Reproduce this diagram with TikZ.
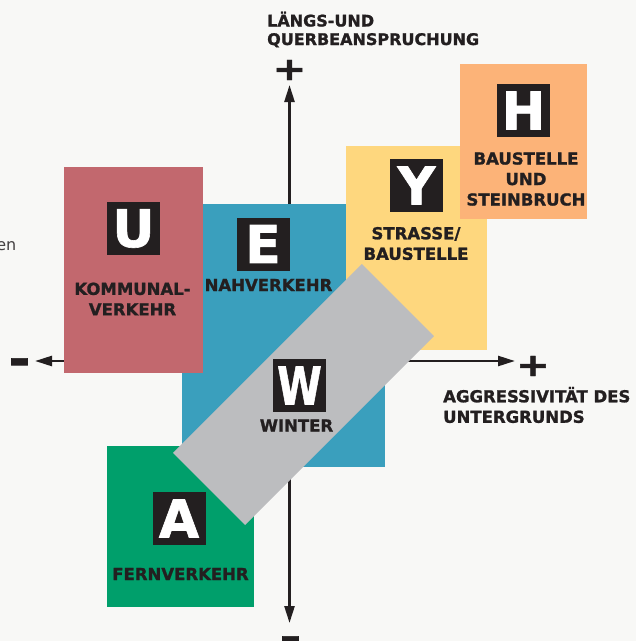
\documentclass[tikz,border=0pt]{standalone}
\usepackage{fontspec}
\setmainfont{DejaVu Sans}[BoldFeatures={FakeBold=1.2}]
\usetikzlibrary{arrows.meta}
\definecolor{bgcol}{HTML}{F8F8F6}
\definecolor{kommunal}{HTML}{C2686E}
\definecolor{nahverkehr}{HTML}{3A9FBD}
\definecolor{strasse}{HTML}{FED77E}
\definecolor{steinbruch}{HTML}{FCB378}
\definecolor{fernverkehr}{HTML}{009F6B}
\definecolor{winter}{HTML}{BCBDBF}
\definecolor{ink}{HTML}{231F20}
\begin{document}
\begin{tikzpicture}[x=1pt, y=-1pt,
		box/.style={rectangle, inner sep=0pt, anchor=north west},
		icon/.style={rectangle, fill=ink, text=white, minimum size=53pt, inner sep=0pt, font=\fontsize{52}{52}\selectfont\bfseries},
		lbl/.style={text=ink, align=center, inner sep=0pt, font=\fontsize{16.5}{20.5}\selectfont\bfseries},
		sign/.style={text=ink, inner sep=0pt, font=\fontsize{40}{40}\selectfont\bfseries},
		axis/.style={ink, line width=2.5pt, -{Triangle[length=17pt, width=10pt]}}]
	\fill[bgcol] (0,0) rectangle (636,641);
	\useasboundingbox (0,0) rectangle (636,641);
	% axes
	\coordinate (o) at (289.5,361);
	\coordinate (ytop) at (289.5,85);
	\coordinate (ybot) at (289.5,623);
	\coordinate (xleft) at (35,361);
	\coordinate (xright) at (515,361);
	\draw[axis] (o) -- (ytop);
	\draw[axis] (o) -- (ybot);
	\draw[axis] (o) -- (xleft);
	\draw[axis] (o) -- (xright);
	\node[sign] (plusy) at (289.5,70) {\scalebox{1}[0.8]{+}};
	\node[sign] (plusx) at (533,366) {\scalebox{1}[0.8]{+}};
	\node[sign] (minusx) at (19.5,367) {\scalebox{1.3}[1.2]{-}};
	\node[sign] (minusy) at (290.5,645) {\scalebox{1.3}[1.2]{-}};
	% boxes
	\node[box, fill=nahverkehr, minimum width=203pt, minimum height=263pt] (boxE) at (182,204) {};
	\node[box, fill=kommunal, minimum width=139pt, minimum height=206pt] (boxU) at (64,167) {};
	\node[box, fill=strasse, minimum width=141pt, minimum height=204pt] (boxY) at (346,146) {};
	\node[box, fill=steinbruch, minimum width=127pt, minimum height=155pt] (boxH) at (460,64) {};
	\node[box, fill=fernverkehr, minimum width=147pt, minimum height=161pt] (boxA) at (107,446) {};
	\node[fill=winter, minimum width=267pt, minimum height=102pt, inner sep=0pt, rotate=45] (boxW) at (303.5,394.5) {};
	% icons
	\node[icon] (iconU) at (133.5,228.5) {U};
	\node[icon] (iconE) at (263,244) {E};
	\node[icon] (iconY) at (416.5,185.5) {Y};
	\node[icon] (iconH) at (523.5,110.5) {H};
	\node[icon] (iconW) at (299.5,385.5) {\scalebox{0.78}[1]{W}};
	\node[icon] (iconA) at (179,518.5) {A};
	% labels
	\node[lbl] (lblU) at (132.5,299) {KOMMUNAL-\\VERKEHR};
	\node[lbl] (lblE) at (268.5,285) {NAHVERKEHR};
	\node[lbl] (lblY) at (416,243.5) {STRASSE/\\BAUSTELLE};
	\node[lbl] (lblH) at (526,179) {BAUSTELLE\\UND\\STEINBRUCH};
	\node[lbl] (lblW) at (296.5,425.5) {WINTER};
	\node[lbl] (lblA) at (180.5,574) {FERNVERKEHR};
	\node[lbl, align=left, anchor=west, font=\fontsize{16}{18.5}\selectfont\bfseries] (lblq) at (267,29.5) {LÄNGS-UND\\QUERBEANSPRUCHUNG};
	\node[lbl, align=left, anchor=west] (lblx) at (443,405) {AGGRESSIVITÄT DES\\UNTERGRUNDS};
	\node[text=ink!85, inner sep=0pt, anchor=base east, font=\fontsize{16}{16}\selectfont] (rest) at (16.5,250) {en};
\end{tikzpicture}
\end{document}
